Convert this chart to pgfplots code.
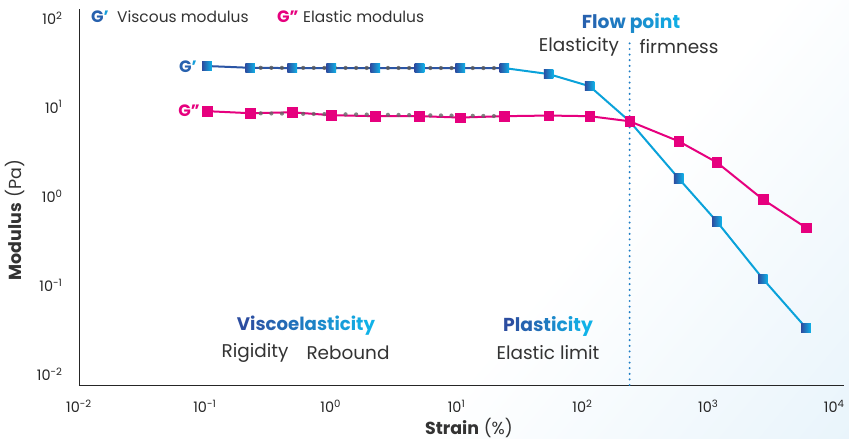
\documentclass[border=0pt]{standalone}
\usepackage{pgfplots}
\pgfplotsset{compat=1.18}
\usepackage{fontspec}
\setmainfont{Poppins}
\definecolor{gdark}{HTML}{2C4DA0}
\definecolor{gcyan}{HTML}{10B2E8}
\definecolor{lineA}{HTML}{2B55A5}
\definecolor{lineB}{HTML}{0AA2DA}
\definecolor{gpink}{HTML}{E6007E}
\definecolor{txt}{HTML}{333333}
\definecolor{flowc}{HTML}{1E7DC4}
\definecolor{bgblue}{HTML}{DCEEF9}
\pgfdeclarehorizontalshading{sqshade}{100bp}{color(0bp)=(gdark); color(25bp)=(gdark); color(75bp)=(gcyan); color(100bp)=(gcyan)}
\pgfdeclarehorizontalshading{bgsh}{100bp}{color(0bp)=(white); color(60bp)=(white); color(100bp)=(bgblue)}
\pgfdeclareplotmark{gsq}{%
  \pgfpathrectangle{\pgfpoint{-\pgfplotmarksize}{-\pgfplotmarksize}}{\pgfpoint{2\pgfplotmarksize}{2\pgfplotmarksize}}%
  \pgfshadepath{sqshade}{0}%
  \pgfusepath{discard}%
}
\newcommand{\gl}[2]{{\color{gcyan!#1!gdark}#2}}
\begin{document}
\begin{tikzpicture}
\begin{scope}[x=1bp,y=-1bp,shift={(-79bp,385bp)}]
\shade[shading=bgsh, shading angle=-40] (0,0) rectangle (849,439);
\end{scope}
\begin{axis}[at={(0,0)}, anchor=south west, scale only axis,
  width=765bp, height=376bp,
  xmode=log, ymode=log,
  xmin=0.01, xmax=11970, ymin=0.00752, ymax=125.9,
  axis lines=left, axis line style={-, line width=0.9bp, color=black!85},
  x axis line style={-}, y axis line style={-},
  xtick={0.01,0.1,1,10,100,1000,10000},
  xticklabels={10\textsuperscript{-2},10\textsuperscript{-1},10\textsuperscript{0},10\textsuperscript{1},10\textsuperscript{2},10\textsuperscript{3},10\textsuperscript{4}},
  ytick={0.01,0.1,1,10,100},
  yticklabels={10\textsuperscript{-2},10\textsuperscript{-1},10\textsuperscript{0},10\textsuperscript{1},10\textsuperscript{2}},
  major tick length=0pt, minor tick length=0pt, tick style={draw=none},
  xminorticks=false, yminorticks=false,
  ticklabel style={font=\fontsize{14.5}{16}\selectfont, text=black!85},
  xticklabel style={anchor=center, yshift=-21bp},
  yticklabel style={anchor=east, xshift=-13bp},
  clip=false,
]
% G' line, two colour parts
\addplot[lineA, line width=2bp, no marks] coordinates {
 (0.104,28.8) (0.229,27.5) (0.495,27.3) (1.01,27.3) (2.26,27.3) (5.07,27.3) (10.7,27.3) (24,27.3)};
\addplot[lineB, line width=2bp, no marks] coordinates {
 (24,27.3) (53.8,23.4) (114,17.1) (237,6.9) (582,1.57) (1169,0.516) (2716,0.117) (5970,0.033)};
% G'' line
\addplot[gpink, line width=2bp, no marks] coordinates {
 (0.104,8.96) (0.229,8.5) (0.495,8.7) (1.01,8.07) (2.26,7.87) (5.07,7.87) (10.7,7.6) (24,7.87) (53.8,8.0) (114,7.87) (237,6.9) (582,4.11) (1169,2.38) (2716,0.914) (5970,0.44)};
% grey dotted overlays
\addplot[black!65, opacity=0.82, line width=4.2bp, line cap=round, dash pattern=on 0pt off 10.6bp, no marks] coordinates {
 (0.229,27.5) (24,27.3)};
\addplot[black!60, opacity=0.8, line width=4.2bp, line cap=round, dash pattern=on 0pt off 10.6bp, no marks] coordinates {
 (0.229,8.5) (24,7.87)};
% markers
\addplot[only marks, mark=square*, mark size=4.8bp, gpink, mark options={draw=none, fill=gpink}] coordinates {
 (0.104,8.96) (0.229,8.5) (0.495,8.7) (1.01,8.07) (2.26,7.87) (5.07,7.87) (10.7,7.6) (24,7.87) (53.8,8.0) (114,7.87) (237,6.9) (582,4.11) (1169,2.38) (2716,0.914) (5970,0.44)};
\addplot[only marks, mark=gsq, mark size=4.8bp] coordinates {
 (0.104,28.8) (0.229,27.5) (0.495,27.3) (1.01,27.3) (2.26,27.3) (5.07,27.3) (10.7,27.3) (24,27.3) (53.8,23.4) (114,17.1) (582,1.57) (1169,0.516) (2716,0.117) (5970,0.033)};
% flow point line
\addplot[flowc, line width=2.2bp, line cap=round, dash pattern=on 0pt off 5.6bp, no marks] coordinates {(237,0.00752) (237,58)};
\end{axis}
\begin{scope}[x=1bp,y=-1bp,shift={(-79bp,385bp)}, every node/.style={inner sep=0pt, text=txt}]
\def\leg{\fontsize{15.5}{17}\selectfont}
\def\lab{\fontsize{18.5}{20}\selectfont}
\def\gg{\fontsize{16.5}{18}\selectfont\bfseries}
\def\hd{\fontsize{18.8}{21}\selectfont\bfseries}
% legend
\node[anchor=west] at (91,17) {\gg\gl{20}{G}\gl{80}{’}};
\node[anchor=west] at (117,17) {\leg Viscous modulus};
\node[anchor=west] at (277,17) {\gg\color{gpink}G”};
\node[anchor=west] at (303,17) {\leg Elastic modulus};
% series labels
\node[anchor=east] at (197,67) {\gg\gl{20}{G}\gl{80}{’}};
\node[anchor=east] at (200,111) {\gg\color{gpink}G”};
% Flow point
\node at (631,23) {\hd\gl{20}{F}\gl{25}{l}\gl{35}{o}\gl{45}{w} \gl{60}{p}\gl{70}{o}\gl{78}{i}\gl{86}{n}\gl{95}{t}};
\node at (579,47) {\lab Elasticity};
\node at (679,47) {\lab firmness};
% Viscoelasticity
\node at (306,326) {\fontsize{18.2}{21}\selectfont\bfseries\gl{0}{V}\gl{5}{i}\gl{12}{s}\gl{20}{c}\gl{28}{o}\gl{36}{e}\gl{44}{l}\gl{52}{a}\gl{60}{s}\gl{68}{t}\gl{74}{i}\gl{80}{c}\gl{86}{i}\gl{93}{t}\gl{100}{y}};
\node at (255,353) {\lab Rigidity};
\node at (348,353) {\lab Rebound};
% Plasticity
\node at (548,326) {\hd\gl{0}{P}\gl{10}{l}\gl{22}{a}\gl{34}{s}\gl{46}{t}\gl{58}{i}\gl{70}{c}\gl{80}{i}\gl{90}{t}\gl{100}{y}};
\node at (548,353) {\lab Elastic limit};
% axis labels
\node at (469,428) {\fontsize{17.5}{19}\selectfont\textbf{Strain} (\%)};
\node[rotate=90] at (15,220) {\fontsize{17.5}{19}\selectfont\textbf{Modulus}\hspace{0.35em}(Pa)};
\pgfresetboundingbox
\path[use as bounding box] (0,0) rectangle (849,439);
\end{scope}
\end{tikzpicture}
\end{document}
